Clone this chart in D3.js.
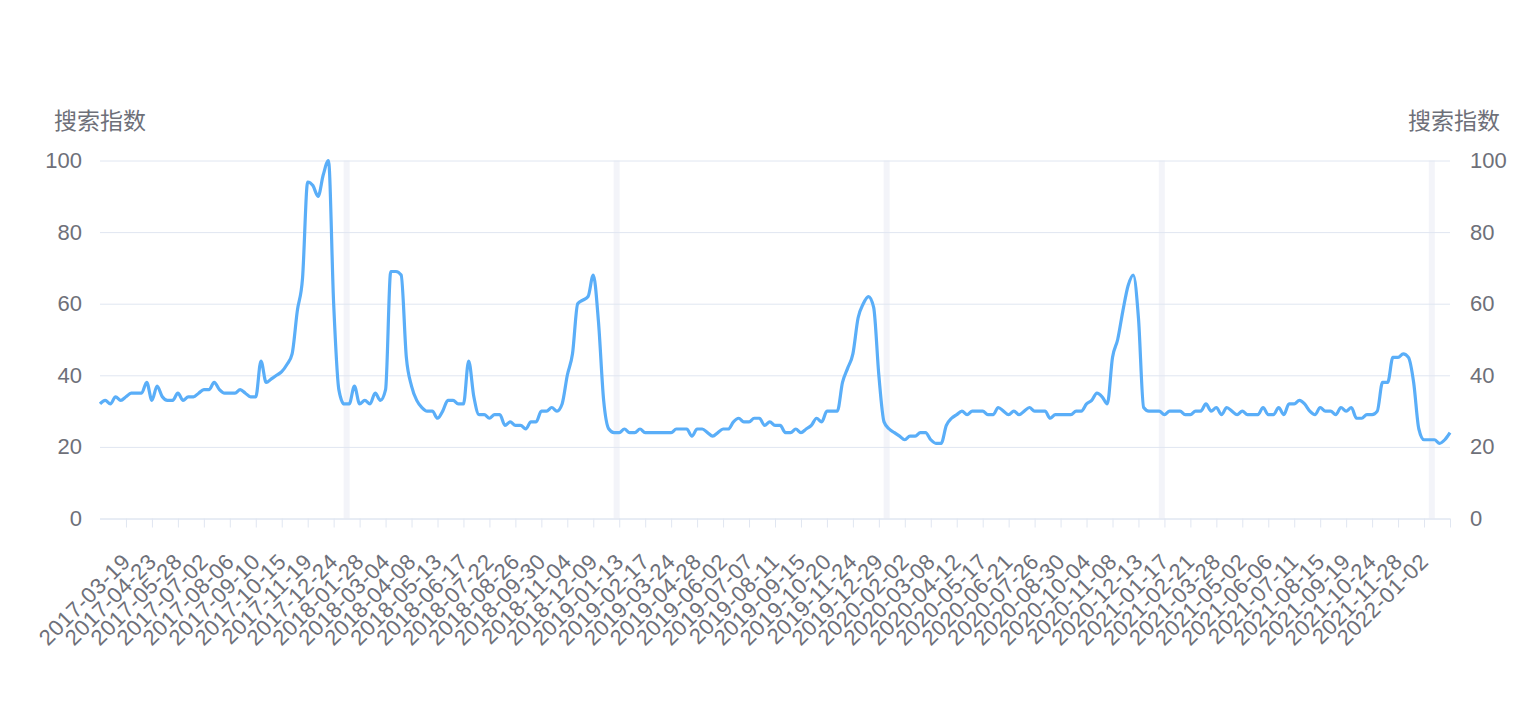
<!DOCTYPE html>
<html>
<head>
<meta charset="utf-8">
<script src="https://cdn.jsdelivr.net/npm/d3@7/dist/d3.min.js"></script>
<style>
  html, body { margin: 0; padding: 0; background: #ffffff; }
  svg { display: block; }
</style>
</head>
<body>
<div id="chart"></div>
<script>
// ---------- data ----------
const startDate = "2017-02-12";          // first weekly category
const axisName = "搜索指数";
const yTicks = [0, 20, 40, 60, 80, 100];

// weekly search index values
const values = [
  32, 33, 32, 34, 33, 34, 35, 35, 35, 38,
  33, 37, 34, 33, 33, 35, 33, 34, 34, 35,
  36, 36, 38, 36, 35, 35, 35, 36, 35, 34,
  34, 44, 38, 39, 40, 41, 43, 46, 58, 67,
  94, 93, 90, 96, 100, 60, 36, 32, 32, 37,
  32, 33, 32, 35, 33, 36, 69, 69, 68, 45,
  37, 33, 31, 30, 30, 28, 30, 33, 33, 32,
  32, 44, 34, 29, 29, 28, 29, 29, 26, 27,
  26, 26, 25, 27, 27, 30, 30, 31, 30, 32,
  40, 46, 60, 61, 62, 68, 55, 33, 25, 24,
  24, 25, 24, 24, 25, 24, 24, 24, 24, 24,
  24, 25, 25, 25, 23, 25, 25, 24, 23, 24,
  25, 25, 27, 28, 27, 27, 28, 28, 26, 27,
  26, 26, 24, 24, 25, 24, 25, 26, 28, 27,
  30, 30, 30, 38, 42, 46, 56, 60, 62, 59,
  40, 27, 25, 24, 23, 22, 23, 23, 24, 24,
  22, 21, 21, 26, 28, 29, 30, 29, 30, 30,
  30, 29, 29, 31, 30, 29, 30, 29, 30, 31,
  30, 30, 30, 28, 29, 29, 29, 29, 30, 30,
  32, 33, 35, 34, 32, 45, 50, 58, 65, 68,
  56, 31, 30, 30, 30, 29, 30, 30, 30, 29,
  29, 30, 30, 32, 30, 31, 29, 31, 30, 29,
  30, 29, 29, 29, 31, 29, 29, 31, 29, 32,
  32, 33, 32, 30, 29, 31, 30, 30, 29, 31,
  30, 31, 28, 28, 29, 29, 30, 38, 38, 45,
  45, 46, 45, 38, 25, 22, 22, 22, 21, 22,
  24
];

// x-axis tick labels (every 5th week)
const tickLabels = [
  "2017-03-19","2017-04-23","2017-05-28","2017-07-02","2017-08-06","2017-09-10",
  "2017-10-15","2017-11-19","2017-12-24","2018-01-28","2018-03-04","2018-04-08",
  "2018-05-13","2018-06-17","2018-07-22","2018-08-26","2018-09-30","2018-11-04",
  "2018-12-09","2019-01-13","2019-02-17","2019-03-24","2019-04-28","2019-06-02",
  "2019-07-07","2019-08-11","2019-09-15","2019-10-20","2019-11-24","2019-12-29",
  "2020-02-02","2020-03-08","2020-04-12","2020-05-17","2020-06-21","2020-07-26",
  "2020-08-30","2020-10-04","2020-11-08","2020-12-13","2021-01-17","2021-02-21",
  "2021-03-28","2021-05-02","2021-06-06","2021-07-11","2021-08-15","2021-09-19",
  "2021-10-24","2021-11-28","2022-01-02"
];

// year-change markers: the week after which a new year begins
const yearMarkers = ["2018-01-07","2019-01-06","2020-01-05","2021-01-10","2022-01-09"];

// ---------- categories ----------
const fmt = d3.timeFormat("%Y-%m-%d");
const parse = d3.timeParse("%Y-%m-%d");
const categories = values.map((_, i) => fmt(d3.timeWeek.offset(parse(startDate), i)));

// ---------- layout ----------
const W = 1524, H = 724;
const plotL = 100, plotR = 1450, plotT = 160.5, plotB = 518.5;
const textColor = "#6E7079";
const gridColor = "#E0E6F1";
const lineColor = "#5AAEF8";
const latinFont = "'Liberation Sans', Arial, 'Noto Sans CJK SC', sans-serif";
const cjkFont = "'Noto Sans CJK SC', 'Noto Sans', sans-serif";

const svg = d3.select("#chart").append("svg")
  .attr("width", W).attr("height", H)
  .attr("viewBox", `0 0 ${W} ${H}`);

const x = d3.scalePoint().domain(categories).range([plotL, plotR]);
const y = d3.scaleLinear().domain([0, 100]).range([plotB, plotT]);

// year markers (light vertical bands)
svg.append("g").selectAll("rect")
  .data(yearMarkers)
  .join("rect")
  .attr("x", d => x(d) + x.step() / 2 - 3)
  .attr("y", plotT)
  .attr("width", 6)
  .attr("height", plotB - plotT)
  .attr("fill", "#F3F4F9");

// horizontal grid lines (y axis split lines)
const yAxisL = d3.axisLeft(y).tickValues(yTicks).tickSize(-(plotR - plotL)).tickPadding(18);
const gL = svg.append("g").attr("transform", `translate(${plotL},0)`).call(yAxisL);
gL.select(".domain").remove();
gL.selectAll(".tick line").attr("stroke", gridColor).attr("stroke-width", 1);
gL.selectAll(".tick text")
  .attr("fill", textColor)
  .attr("font-family", latinFont)
  .attr("font-size", 22);

const yAxisR = d3.axisRight(y).tickValues(yTicks).tickSize(0).tickPadding(20);
const gR = svg.append("g").attr("transform", `translate(${plotR},0)`).call(yAxisR);
gR.select(".domain").remove();
gR.selectAll(".tick text")
  .attr("fill", textColor)
  .attr("font-family", latinFont)
  .attr("font-size", 22);

// x axis
const tickCats = categories.filter((c, i) => i > 0 && i % 5 === 0);
const xAxis = d3.axisBottom(x).tickValues(tickCats).tickSize(9).tickFormat(d => tickLabels.includes(d) ? d : "");
const gX = svg.append("g").attr("transform", `translate(0,${plotB})`).call(xAxis);
gX.select(".domain").attr("stroke", gridColor).attr("d", `M${plotL},0.5H${plotR}`);
gX.selectAll(".tick line").attr("stroke", gridColor);
gX.selectAll(".tick text")
  .attr("fill", textColor)
  .attr("font-family", latinFont)
  .attr("font-size", 22)
  .attr("letter-spacing", "0.6px")
  .attr("text-anchor", "end")
  .attr("dominant-baseline", "central")
  .attr("dy", null)
  .attr("y", 0)
  .attr("transform", "translate(0,39) rotate(-45)");

// axis names
svg.append("text")
  .attr("x", plotL).attr("y", 118.5)
  .attr("text-anchor", "middle")
  .attr("dominant-baseline", "central")
  .attr("fill", textColor)
  .attr("font-family", cjkFont)
  .attr("font-size", 23)
  .text(axisName);
svg.append("text")
  .attr("x", plotR + 4).attr("y", 118.5)
  .attr("text-anchor", "middle")
  .attr("dominant-baseline", "central")
  .attr("fill", textColor)
  .attr("font-family", cjkFont)
  .attr("font-size", 23)
  .text(axisName);

// line
const line = d3.line()
  .x((d, i) => x(categories[i]))
  .y(d => y(d))
  .curve(d3.curveMonotoneX);

svg.append("path")
  .datum(values)
  .attr("d", line)
  .attr("fill", "none")
  .attr("stroke", lineColor)
  .attr("stroke-width", 3.2)
  .attr("stroke-linejoin", "round");
</script>
</body>
</html>
